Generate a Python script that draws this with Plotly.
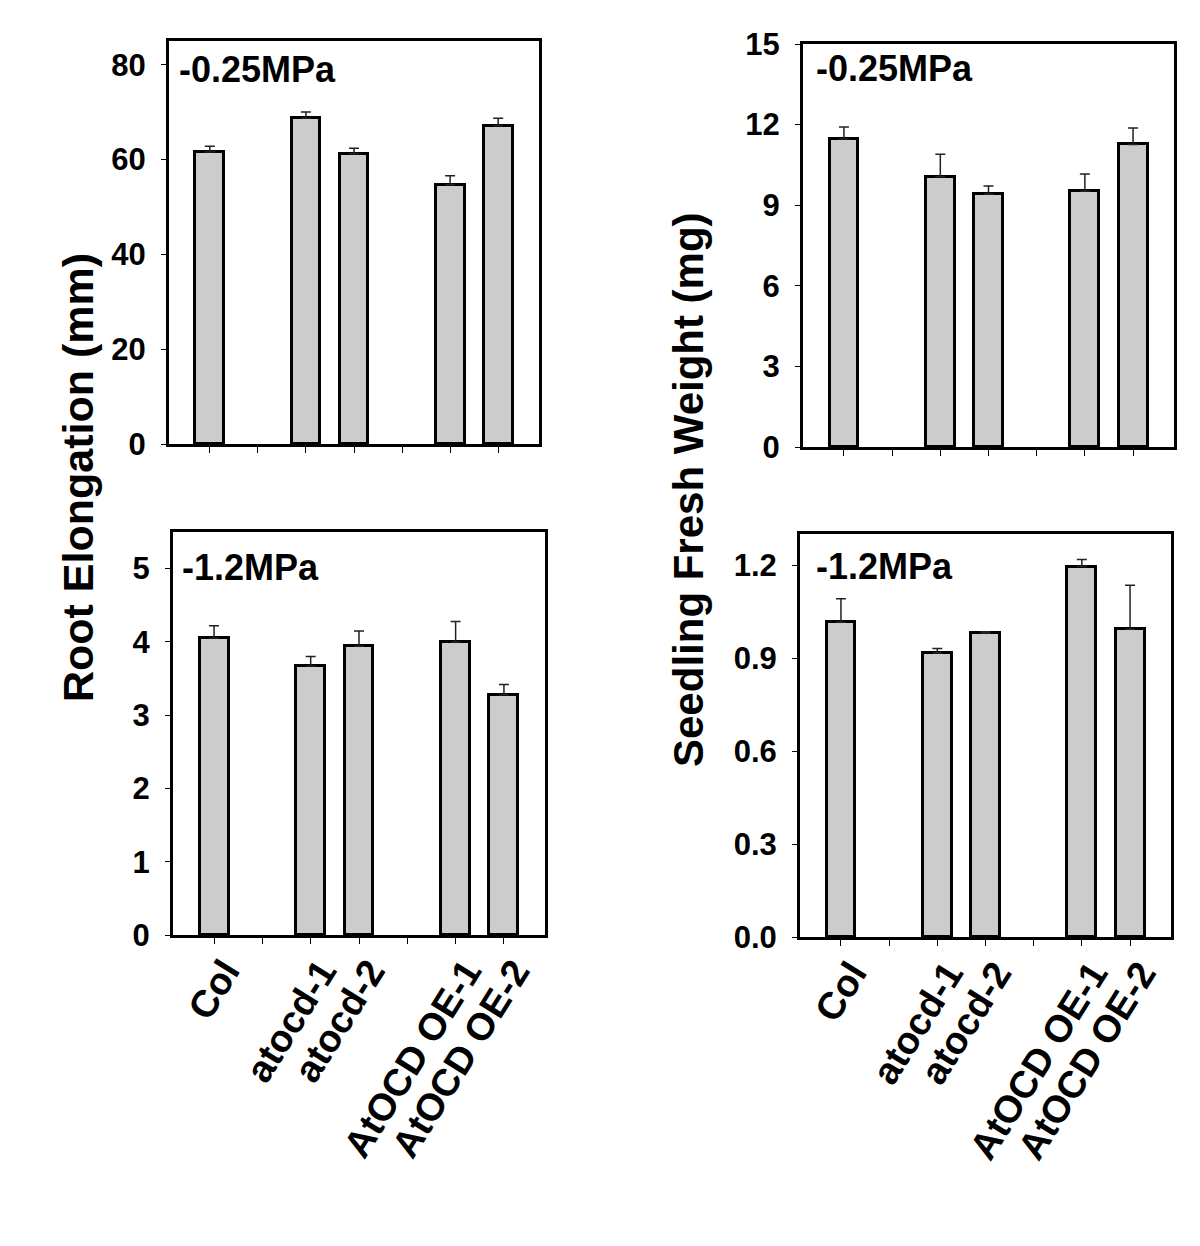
import plotly.graph_objects as go

# slots on the category axis ("" = empty gap slot)
slots = ["Col", "", "atocd-1", "atocd-2", "", "AtOCD OE-1", "AtOCD OE-2"]

root_025 = [61.6, None, 68.7, 61.2, None, 54.7, 67.1]
root_025_err = [1.2, None, 1.3, 1.2, None, 1.9, 1.6]
root_12 = [4.05, None, 3.67, 3.94, None, 4.00, 3.28]
root_12_err = [0.17, None, 0.13, 0.21, None, 0.28, 0.14]
fw_025 = [11.46, None, 10.06, 9.41, None, 9.52, 11.26]
fw_025_err = [0.45, None, 0.84, 0.30, None, 0.64, 0.61]
fw_12 = [1.015, None, 0.916, 0.981, None, 1.195, 0.993]
fw_12_err = [0.076, None, 0.015, 0.004, None, 0.023, 0.142]

panel_labels = ["-0.25MPa", "-1.2MPa", "-0.25MPa", "-1.2MPa"]
y_titles = ["Root Elongation (mm)", "Seedling Fresh Weight (mg)"]

OFF = 8  # page body margin
W, H = 1200 - OFF, 1246 - OFF
FONT = "Liberation Sans, Arial, sans-serif"


def fx(px):
    return (px - OFF) / W


def fy(py):
    return 1 - (py - OFF) / H


# page pixel boxes (left, top, right, bottom)
boxes = [(169, 41, 539, 444), (173, 532, 545, 935), (803, 44, 1174, 447), (800, 534, 1171, 937)]
label_pos = [(0.022, 0.93), (0.019, 0.913), (0.03, 0.938), (0.038, 0.92)]
yranges = [[0, 85], [0, 5.5], [0, 15], [0, 1.3]]
ydticks = [20, 1, 3, 0.3]
yformats = ["d", "d", "d", ".1f"]
series = [(root_025, root_025_err), (root_12, root_12_err), (fw_025, fw_025_err), (fw_12, fw_12_err)]

fig = go.Figure()
xs = list(range(len(slots)))
for i, (vals, errs) in enumerate(series):
    sfx = "" if i == 0 else str(i + 1)
    fig.add_trace(go.Bar(
        x=xs, y=vals, width=0.6,
        marker=dict(color="#cccccc", line=dict(color="black", width=3)),
        error_y=dict(type="data", symmetric=False, array=errs,
                     arrayminus=[0 if e is not None else None for e in errs],
                     color="#222222", thickness=1.5, width=5),
        xaxis="x" + sfx, yaxis="y" + sfx, showlegend=False,
    ))
    l, t, r, b = boxes[i]
    bottom_row = i in (1, 3)
    fig.layout["xaxis" + sfx] = dict(
        domain=[fx(l), fx(r)], anchor="y" + sfx, range=[-0.85, len(slots) - 1 + 0.85],
        tickmode="array", tickvals=xs, ticktext=slots if bottom_row else [""] * len(slots),
        ticks="outside", ticklen=6, tickwidth=1, tickcolor="black",
        showline=True, linewidth=3, linecolor="black", mirror=True,
        showgrid=False, zeroline=False, tickangle=-58, automargin=False,
        ticklabelstandoff=-10, ticklabelshift=11,
        tickfont=dict(family=FONT, size=38, color="black", weight="bold"),
    )
    fig.layout["yaxis" + sfx] = dict(
        domain=[fy(b), fy(t)], anchor="x" + sfx, range=yranges[i],
        dtick=ydticks[i], tick0=0, tickformat=yformats[i],
        ticks="outside", ticklen=5, tickwidth=1, tickcolor="black",
        showline=True, linewidth=3, linecolor="black", mirror=True,
        showgrid=False, zeroline=False, automargin=False,
        ticklabelstandoff=9,
        tickfont=dict(family=FONT, size=31, color="black", weight="bold"),
    )
    lx, ly = label_pos[i]
    fig.add_annotation(
        text=panel_labels[i], xref="x" + sfx + " domain", yref="y" + sfx + " domain",
        x=lx, y=ly, xanchor="left", yanchor="middle", showarrow=False,
        font=dict(family=FONT, size=36, color="black", weight="bold"),
    )

fig.add_annotation(text=y_titles[0], xref="paper", yref="paper", x=fx(78), y=fy(478),
                   textangle=-90, showarrow=False, xanchor="center", yanchor="middle",
                   font=dict(family=FONT, size=43, color="black", weight="bold"))
fig.add_annotation(text=y_titles[1], xref="paper", yref="paper", x=fx(688), y=fy(490),
                   textangle=-90, showarrow=False, xanchor="center", yanchor="middle",
                   font=dict(family=FONT, size=42, color="black", weight="bold"))

fig.update_layout(width=W, height=H, margin=dict(l=0, r=0, t=0, b=0),
                  paper_bgcolor="white", plot_bgcolor="white", bargap=0)
fig.write_html("out.html")
